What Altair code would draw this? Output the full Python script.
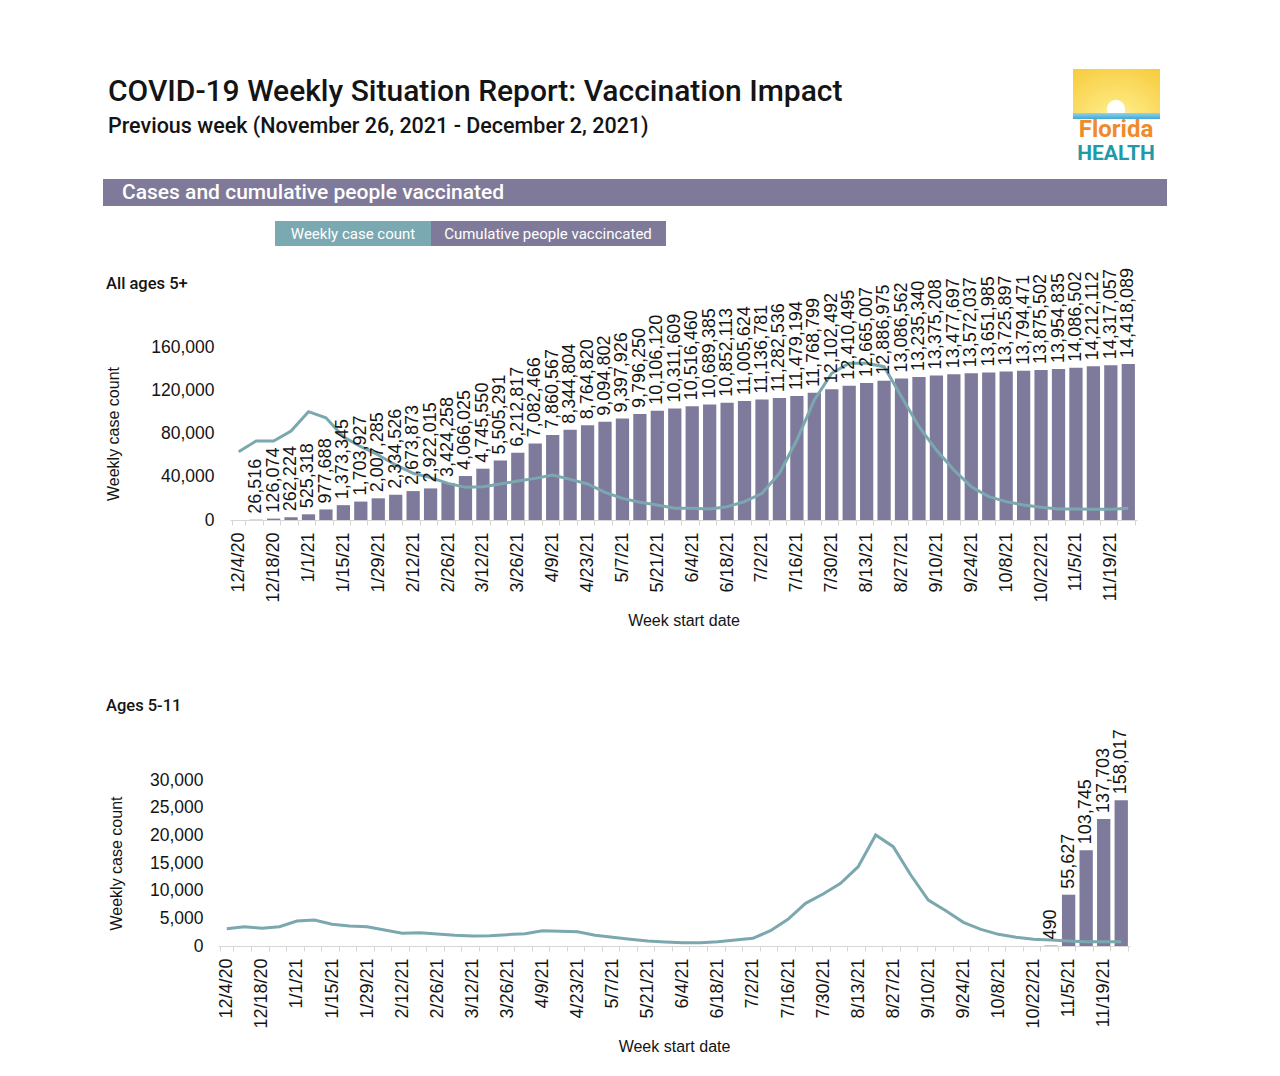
import json
import altair as alt
import pandas as pd

# ---------------- data ----------------
weeks = ['12/4/20', '12/11/20', '12/18/20', '12/25/20', '1/1/21', '1/8/21', '1/15/21', '1/22/21',
         '1/29/21', '2/5/21', '2/12/21', '2/19/21', '2/26/21', '3/5/21', '3/12/21', '3/19/21',
         '3/26/21', '4/2/21', '4/9/21', '4/16/21', '4/23/21', '4/30/21', '5/7/21', '5/14/21',
         '5/21/21', '5/28/21', '6/4/21', '6/11/21', '6/18/21', '6/25/21', '7/2/21', '7/9/21',
         '7/16/21', '7/23/21', '7/30/21', '8/6/21', '8/13/21', '8/20/21', '8/27/21', '9/3/21',
         '9/10/21', '9/17/21', '9/24/21', '10/1/21', '10/8/21', '10/15/21', '10/22/21',
         '10/29/21', '11/5/21', '11/12/21', '11/19/21', '11/26/21']

all_cases = [63200, 73100, 73100, 82300, 100200, 94600, 77000, 67800, 60100, 50900, 43200,
             39200, 33900, 30200, 30800, 33300, 36100, 38500, 41600, 37600, 33300, 25600,
             20000, 16400, 13900, 10800, 10800, 10200, 12300, 17000, 24700, 43200, 74000,
             111000, 135700, 145000, 145000, 141800, 114000, 86300, 64700, 46200, 30800,
             21600, 17000, 13900, 11700, 10200, 10200, 9900, 9900, 10800]

all_vax_weeks = weeks[1:]
all_vax = [26516, 126074, 262224, 525318, 977688, 1373345, 1703927, 2007285, 2334526,
           2673873, 2922015, 3424258, 4066025, 4745550, 5505291, 6212817, 7082466, 7860567,
           8344804, 8764820, 9094802, 9397926, 9796250, 10106120, 10311609, 10516460,
           10689385, 10852113, 11005624, 11136781, 11282536, 11479194, 11768799, 12102492,
           12410495, 12665007, 12886975, 13086562, 13235340, 13375208, 13477697, 13572037,
           13651985, 13725897, 13794471, 13875502, 13954835, 14086502, 14212112, 14317057,
           14418089]

kid_cases = [3130, 3490, 3190, 3490, 4520, 4700, 3920, 3610, 3490, 2890, 2290, 2410, 2170,
             1930, 1810, 1870, 2050, 2230, 2770, 2650, 2590, 1930, 1570, 1200, 900,
             720, 600, 600, 780, 1080, 1380, 2770, 4820, 7710, 9400, 11330, 14330, 20060,
             17950, 12830, 8310, 6380, 4280, 3010, 2110, 1570, 1210, 1080, 900, 780, 780, 780]

kid_vax_weeks = ['10/29/21', '11/5/21', '11/12/21', '11/19/21', '11/26/21']
kid_vax = [490, 55627, 103745, 137703, 158017]

all_case_ticks = [0, 40000, 80000, 120000, 160000]
kid_case_ticks = [0, 5000, 10000, 15000, 20000, 25000, 30000]
shown_week_labels = weeks[::2]

# ---------------- style ----------------
FONT = "Liberation Sans, Arial, sans-serif"
HFONT = "Roboto, Liberation Sans, Arial, sans-serif"
BAR = '#7e7a9b'
LINE = '#7ba8af'
BANNER = '#7f7a99'
TEAL_BOX = '#7ba9b1'
TXT = '#141414'

one = pd.DataFrame({'a': [0]})


def text_at(s, x, y, ox, oy, size, color=TXT, weight='normal', align='left',
            baseline='alphabetic', font=HFONT):
    return alt.Chart(one).mark_text(
        text=s, align=align, baseline=baseline, fontSize=size, fontWeight=weight,
        color=color, font=font
    ).encode(x=alt.value(x - ox), y=alt.value(y - oy))


def box_at(x1, x2, y1, y2, ox, oy, fill):
    return alt.Chart(one).mark_rect(fill=fill, strokeWidth=0).encode(
        x=alt.value(x1 - ox), x2=alt.value(x2 - ox),
        y=alt.value(y1 - oy), y2=alt.value(y2 - oy))


label_expr = "indexof(" + json.dumps(shown_week_labels) + ", datum.value) >= 0 ? datum.label : ''"


def xenc(x_range):
    sc = dict(domain=weeks, paddingInner=0.24, paddingOuter=0.12)
    if x_range is not None:
        sc['range'] = x_range
    return alt.X('week:N',
                 scale=alt.Scale(**sc),
                 axis=alt.Axis(title='Week start date', labelAngle=-90, labelExpr=label_expr,
                               tickBand='extent', domainColor='#d6d6d6', tickColor='#d6d6d6',
                               tickSize=5, labelPadding=7, labelFontSize=18, labelFont=FONT,
                               labelColor=TXT, labelOverlap=False, grid=False,
                               titleFont=FONT, titleFontSize=16, titleFontWeight='normal',
                               titleColor=TXT, titlePadding=10))


def panel(cases, vax_weeks, vax, case_ticks, case_max, vax_max, width, height,
          label_pad, title_pad, y_offset, x_range, extras):
    case_df = pd.DataFrame({'week': weeks, 'cases': cases})
    vax_df = pd.DataFrame({'week': vax_weeks, 'vax': vax})
    bars = alt.Chart(vax_df).mark_bar(color=BAR).encode(
        x=xenc(x_range),
        y=alt.Y('vax:Q', scale=alt.Scale(domain=[0, vax_max], nice=False), axis=None))
    labels = alt.Chart(vax_df).mark_text(
        angle=270, align='left', baseline='middle', dx=6, fontSize=18, font=FONT, color=TXT
    ).encode(
        x=xenc(x_range),
        y=alt.Y('vax:Q', scale=alt.Scale(domain=[0, vax_max], nice=False), axis=None),
        text=alt.Text('vax:Q', format=',.0f'))
    line = alt.Chart(case_df).mark_line(color=LINE, strokeWidth=3).encode(
        x=xenc(x_range),
        y=alt.Y('cases:Q', scale=alt.Scale(domain=[0, case_max], nice=False),
                axis=alt.Axis(title='Weekly case count', orient='left', values=case_ticks,
                              format=',.0f', domain=False, ticks=False, grid=False,
                              offset=y_offset,
                              labelFont=FONT, labelFontSize=17.5, labelColor=TXT,
                              labelPadding=label_pad, titleFont=FONT, titleFontSize=16,
                              titleFontWeight='normal', titleColor=TXT,
                              titlePadding=title_pad)))
    return alt.layer(*extras, bars, line, labels).resolve_scale(y='independent').properties(
        width=width, height=height)


# ---------------- top panel (All ages 5+) ----------------
OX1, OY1 = 230, 347
logo_grad = {
    "gradient": "radial", "x1": 0.5, "y1": 0.95, "x2": 0.5, "y2": 0.95, "r1": 0, "r2": 0.9,
    "stops": [{"offset": 0, "color": "#fffbe6"}, {"offset": 0.35, "color": "#fde77a"},
              {"offset": 1, "color": "#f6c93a"}]}
water_grad = {
    "gradient": "linear", "x1": 0, "y1": 0, "x2": 0, "y2": 1,
    "stops": [{"offset": 0, "color": "#8fd3ee"}, {"offset": 1, "color": "#3fa9d6"}]}

top_extras = [
    box_at(8, 9, 8, 9, OX1, OY1, 'white'),
    box_at(300, 301, 640, 641, OX1, OY1, 'white'),
    text_at('COVID-19 Weekly Situation Report: Vaccination Impact', 108, 101, OX1, OY1, 30,
            weight=500),
    text_at('Previous week (November 26, 2021 - December 2, 2021)', 108, 133, OX1, OY1, 21.5,
            weight=500),
    alt.Chart(one).mark_rect(fill=logo_grad).encode(
        x=alt.value(1073 - OX1), x2=alt.value(1160 - OX1),
        y=alt.value(69 - OY1), y2=alt.value(115 - OY1)),
    alt.Chart(one).mark_point(shape='circle', filled=True, size=340, color='white',
                              opacity=1).encode(
        x=alt.value(1116 - OX1), y=alt.value(109 - OY1)),
    alt.Chart(one).mark_rect(fill=water_grad).encode(
        x=alt.value(1073 - OX1), x2=alt.value(1160 - OX1),
        y=alt.value(113 - OY1), y2=alt.value(119 - OY1)),
    text_at('Florida', 1116, 137, OX1, OY1, 24, color='#f08a2c', weight='bold',
            align='center'),
    text_at('HEALTH', 1116, 159.5, OX1, OY1, 21, color='#1e9aa8', weight='bold',
            align='center'),
    box_at(103, 1167, 179, 206, OX1, OY1, BANNER),
    text_at('Cases and cumulative people vaccinated', 122, 193, OX1, OY1, 21, color='white',
            weight=500, baseline='middle'),
    box_at(275, 431, 221, 246, OX1, OY1, TEAL_BOX),
    box_at(431, 666, 221, 246, OX1, OY1, BANNER),
    text_at('Weekly case count', 353, 234, OX1, OY1, 15, color='white', align='center',
            baseline='middle'),
    text_at('Cumulative people vaccincated', 548, 234, OX1, OY1, 15, color='white',
            align='center', baseline='middle'),
    text_at('All ages 5+', 106, 284, OX1, OY1, 16.5, weight=500, baseline='middle'),
]

top = panel(all_cases, all_vax_weeks, all_vax, all_case_ticks, 160000, 16000000,
            907, 173, 16, 29, 0, None, top_extras)

# ---------------- bottom panel (Ages 5-11) ----------------
# the concat aligns both plot origins at x=230; the bottom bands start 12px further left
OX2, OY2 = 230, 780
SHIFT = 12
bottom_extras = [
    box_at(8, 9, 651, 652, OX2, OY2, 'white'),
    text_at('Ages 5-11', 106, 706, OX2, OY2, 16.5, weight=500, baseline='middle'),
]

bottom = panel(kid_cases, kid_vax_weeks, kid_vax, kid_case_ticks, 30000, 180000,
               912 - SHIFT, 166, 15, 25, SHIFT, [-SHIFT, 912 - SHIFT], bottom_extras)

chart = alt.concat(top, bottom, columns=1, spacing=10).configure_view(
    stroke=None).properties(padding=0, background='white')

chart.save("out.html", embed_options={"renderer": "svg", "actions": False})
